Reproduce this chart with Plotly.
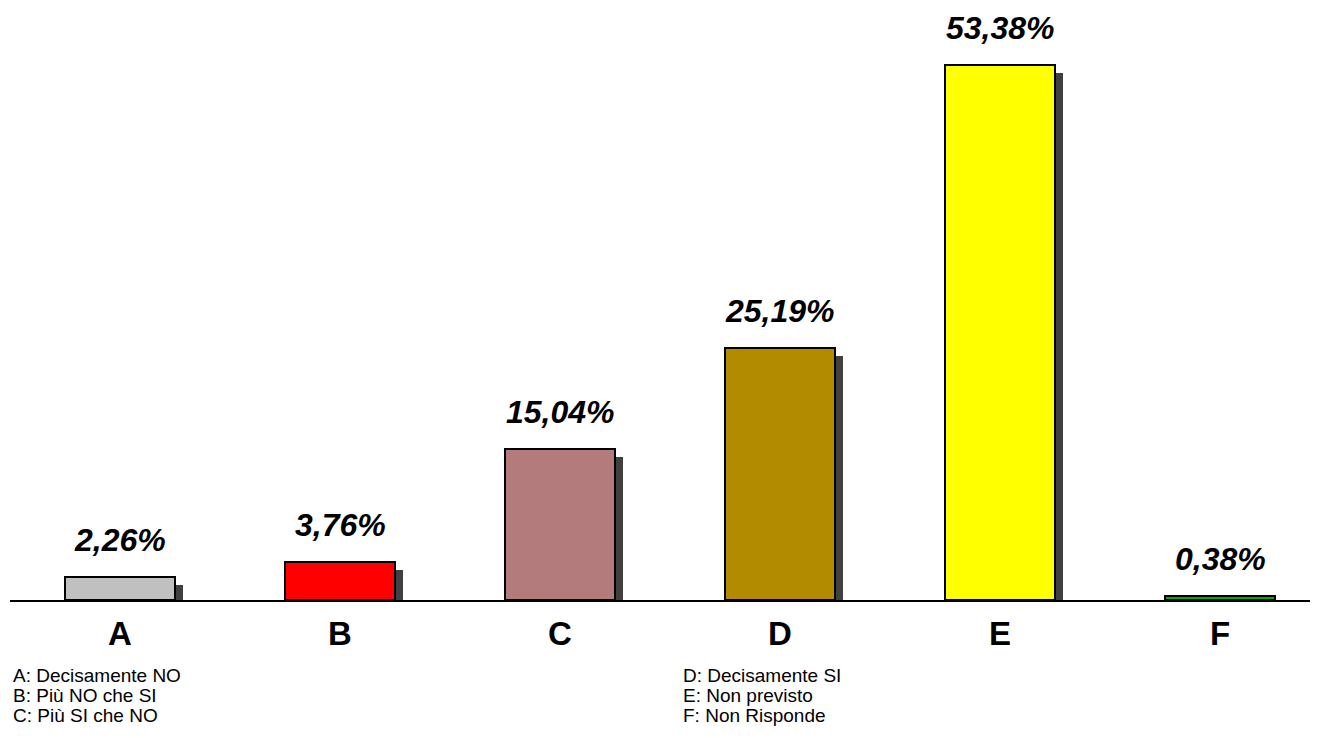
import plotly.graph_objects as go

categories = ["A", "B", "C", "D", "E", "F"]
values = [2.26, 3.76, 15.04, 25.19, 53.38, 0.38]
labels = ["2,26%", "3,76%", "15,04%", "25,19%", "53,38%", "0,38%"]
colors = ["#C0C0C0", "#FF0000", "#B37B7B", "#B38B00", "#FFFF00", "#00B000"]
legend_left = ["A: Decisamente NO", "B: Più NO che SI", "C: Più SI che NO"]
legend_right = ["D: Decisamente SI", "E: Non previsto", "F: Non Risponde"]

# page has an 8px body margin: work in figure coords = page coords - 8
OFF = 8
W, H = 1321 - OFF, 738 - OFF
baseline = 600 - OFF
L = 10 - OFF
T = 0
B = H - baseline
R = W - (1310 - OFF)
plot_w = W - L - R
plot_h = H - T - B

xs = list(range(len(categories)))
px_per_unit_x = 220.0
xmin = -0.5
xmax = xmin + plot_w / px_per_unit_x
px_per_unit_y = 10.022
ymax = plot_h / px_per_unit_y

sx = 8 / px_per_unit_x
sy = 8 / px_per_unit_y

fig = go.Figure()
# shadows
fig.add_trace(go.Bar(
    x=xs, y=[v - sy for v in values], width=0.5, offset=-0.25 + sx,
    marker=dict(color="#404040", line=dict(width=0)),
    hoverinfo="skip", showlegend=False,
))
# bars
fig.add_trace(go.Bar(
    x=xs, y=values, width=0.5, offset=-0.25,
    marker=dict(color=colors, line=dict(color="black", width=2)),
    showlegend=False,
))

annotations = []
for i, (v, t) in enumerate(zip(values, labels)):
    annotations.append(dict(
        x=i, y=v, xref="x", yref="y", text=t, showarrow=False,
        yanchor="bottom", yshift=17,
        font=dict(family="Liberation Sans, Arial", size=32, color="black",
                  weight="bold", style="italic"),
    ))

def px_to_paper_x(px):
    return (px - OFF - L) / plot_w

def px_to_paper_y(py):
    return (baseline - (py - OFF)) / plot_h

for j, txt in enumerate(legend_left):
    annotations.append(dict(
        x=px_to_paper_x(12), y=px_to_paper_y(675 + 20 * j), xref="paper", yref="paper",
        text=txt, showarrow=False, xanchor="left", yanchor="middle", borderpad=0,
        font=dict(family="Liberation Sans, Arial", size=19, color="black"),
    ))
for j, txt in enumerate(legend_right):
    annotations.append(dict(
        x=px_to_paper_x(682), y=px_to_paper_y(675 + 20 * j), xref="paper", yref="paper",
        text=txt, showarrow=False, xanchor="left", yanchor="middle", borderpad=0,
        font=dict(family="Liberation Sans, Arial", size=19, color="black"),
    ))

fig.update_layout(
    width=W, height=H,
    margin=dict(l=L, r=R, t=T, b=B, pad=0),
    paper_bgcolor="white", plot_bgcolor="white",
    barmode="overlay", bargap=0,
    annotations=annotations,
    xaxis=dict(
        range=[xmin, xmax], tickvals=xs, ticktext=categories,
        showgrid=False, zeroline=False, showline=True, linecolor="black", linewidth=2,
        ticks="", ticklabelstandoff=3,
        tickfont=dict(family="Liberation Sans, Arial", size=33, color="black", weight="bold"),
        fixedrange=True,
    ),
    yaxis=dict(range=[0, ymax], visible=False, showgrid=False, zeroline=False, fixedrange=True),
)

fig.write_html("out.html")
